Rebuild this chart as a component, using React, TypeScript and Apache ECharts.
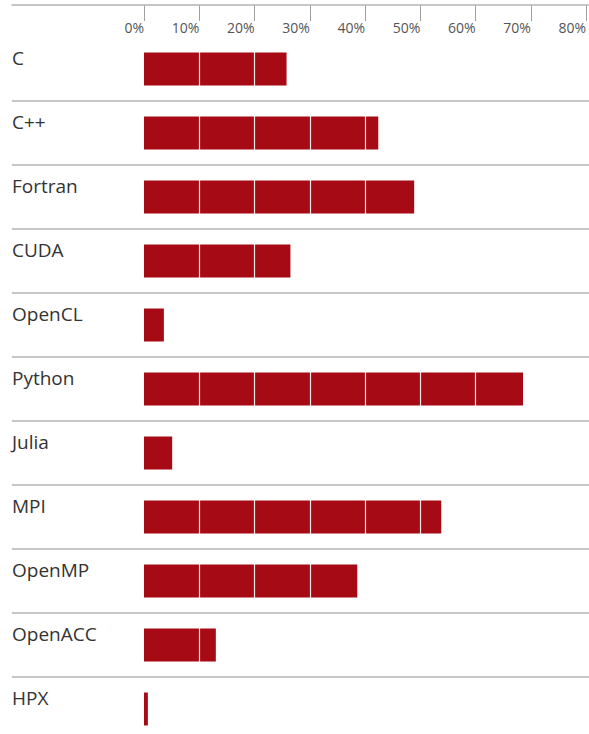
import React, { useEffect, useRef } from "react";
import * as echarts from "echarts";

const categories = ["C", "C++", "Fortran", "CUDA", "OpenCL", "Python", "Julia", "MPI", "OpenMP", "OpenACC", "HPX"];
const values = [25.8, 42.4, 48.9, 26.5, 3.6, 68.6, 5.1, 53.8, 38.6, 13.0, 0.7];
const axisMin = 0;
const axisMax = 80;
const axisStep = 10;

export default function App() {
  const ref = useRef<HTMLDivElement>(null);
  useEffect(() => {
    if (!ref.current) return;
    const chart = echarts.init(ref.current, undefined, { renderer: "svg" });
    const font = "'Open Sans', 'Noto Sans', sans-serif";
    chart.setOption({
      animation: false,
      grid: [
        { left: 144, right: 2, top: 37, height: 704, containLabel: false },
        { left: 12, right: 0, top: 101, height: 640, containLabel: false },
      ],
      xAxis: [
        {
          gridIndex: 0,
          type: "value",
          position: "top",
          min: axisMin,
          max: axisMax,
          interval: axisStep,
          offset: 32,
          z: 10,
          axisLine: { show: false },
          axisTick: { show: true, inside: true, length: 16, lineStyle: { color: "#a0a0a0", width: 1 } },
          axisLabel: {
            inside: true,
            margin: 15,
            align: "right",
            verticalAlign: "top",
            formatter: "{value}%",
            color: "#555",
            fontSize: 14,
            fontFamily: font,
          },
          splitLine: { show: true, showMinLine: false, showMaxLine: false, lineStyle: { color: "#ffffff", width: 1.2, opacity: 0.9 } },
        },
        {
          gridIndex: 1,
          type: "value",
          position: "top",
          min: 0,
          max: 1,
          offset: 96,
          z: 20,
          axisLine: { show: true, lineStyle: { color: "#b4b4b4", width: 1.5 } },
          axisTick: { show: false },
          axisLabel: { show: false },
          splitLine: { show: false },
        },
      ],
      yAxis: [
        {
          gridIndex: 0,
          type: "category",
          inverse: true,
          data: categories,
          axisLine: { show: false },
          axisTick: { show: false },
          axisLabel: {
            align: "left",
            verticalAlign: "bottom",
            lineHeight: 22,
            margin: 132,
            color: "#333",
            fontSize: 19,
            fontFamily: font,
          },
          splitLine: { show: false },
        },
        {
          gridIndex: 1,
          type: "category",
          inverse: true,
          data: categories.slice(1),
          z: 20,
          axisLine: { show: false },
          axisTick: { show: false },
          axisLabel: { show: false },
          splitLine: { show: true, lineStyle: { color: "#b4b4b4", width: 1.5 } },
        },
      ],
      series: [
        {
          type: "bar",
          xAxisIndex: 0,
          yAxisIndex: 0,
          data: values,
          barWidth: 33,
          itemStyle: { color: "#a60a15" },
          z: 2,
        },
      ],
    });
    return () => chart.dispose();
  }, []);
  return (
    <div style={{ position: "absolute", left: 0, top: 0, width: 589, height: 734, overflow: "hidden" }}>
      <div ref={ref} style={{ width: 589, height: 741 }} />
    </div>
  );
}
